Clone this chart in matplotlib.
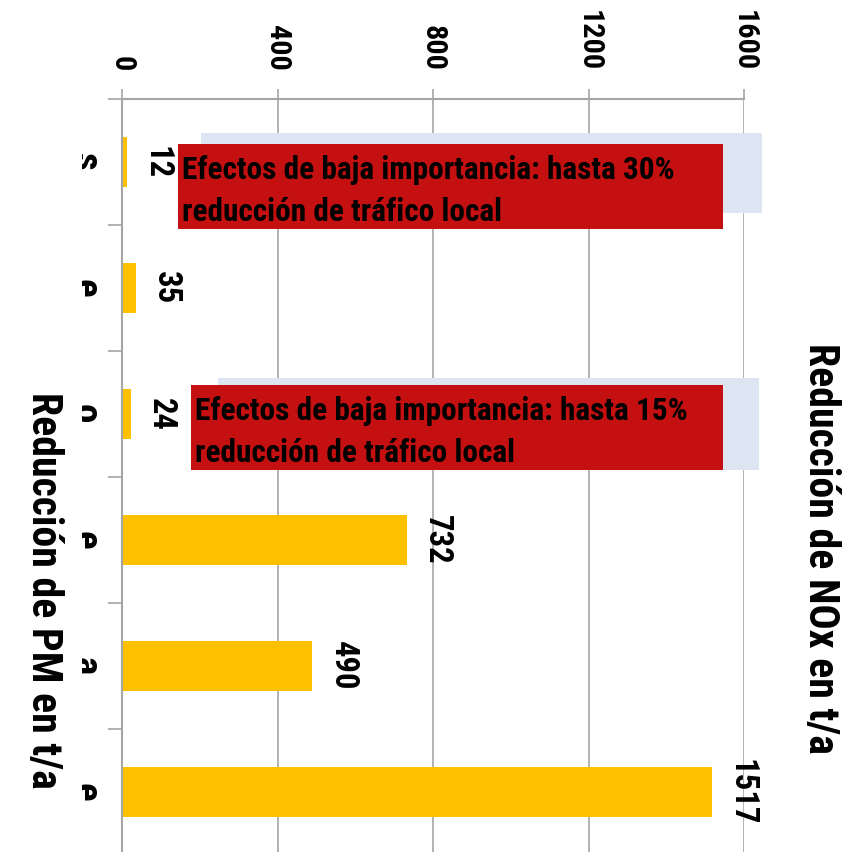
import matplotlib
matplotlib.use("Agg")
import matplotlib.pyplot as plt
from matplotlib import font_manager
from matplotlib.patches import Rectangle
from matplotlib.transforms import Bbox
import numpy as np

# ---------------- data ----------------
categories = ["s", "e", "o", "e", "a", "e"]          # only fragments of the category labels are visible
pm_values = [12, 35, 24, 732, 490, 1517]             # Reducción de PM en t/a
value_ticks = [0, 400, 800, 1200, 1600]
value_tick_labels = ["0", "400", "800", "1200", "1600"]
note_lines = [
    ["Efectos de baja importancia: hasta 30%", "reducción de tráfico local"],
    ["Efectos de baja importancia: hasta 15%", "reducción de tráfico local"],
]
nox_title = "Reducción de NOx en t/a"
pm_title = "Reducción de PM en t/a"


# ---------------- fonts ----------------
def available(name):
    try:
        font_manager.findfont(font_manager.FontProperties(family=name, weight="bold"),
                              fallback_to_default=False)
        return True
    except Exception:
        return False


NARROW = ["Liberation Sans", "DejaVu Sans"]
for cand in ["Liberation Sans Narrow", "Arial Narrow", "Roboto Condensed"]:
    if available(cand):
        NARROW = [cand, "DejaVu Sans"]
        break

W = H = 852
fig = plt.figure(figsize=(W / 100, H / 100), dpi=100)
fig.patch.set_facecolor("white")


def fx(px):
    return px / W


def fy(py):
    return 1 - py / H


ax = fig.add_axes([fx(122), fy(855), fx(744) - fx(122), (855 - 99) / H])
ypos = np.arange(len(categories))
ax.barh(ypos, pm_values, height=0.4, color="#FFC000", zorder=2)
ax.set_xlim(0, 1600)
ax.set_ylim(len(categories) - 0.5, -0.5)

grid_c = "#A6A6A6"
ax.xaxis.grid(True, color=grid_c, lw=1.2)
ax.set_axisbelow(True)
for s in ("right", "bottom"):
    ax.spines[s].set_visible(False)
for s in ("left", "top"):
    ax.spines[s].set_color(grid_c)
    ax.spines[s].set_linewidth(1.5)

ax.xaxis.tick_top()
ax.set_xticks(value_ticks)
ax.set_xticklabels(value_tick_labels, rotation=-90, fontsize=20,
                   fontweight="bold", family=NARROW)
ax.tick_params(axis="x", which="major", length=7, color=grid_c, width=1.2, pad=13)

ax.set_yticks(ypos)
ax.set_yticklabels([])
ax.tick_params(axis="y", which="major", length=0)
ax.set_yticks(np.arange(len(categories) + 1) - 0.5, minor=True)
ax.tick_params(axis="y", which="minor", length=10, color=grid_c, width=1.2)

# value labels
value_texts = []
for i, v in enumerate(pm_values):
    value_texts.append(ax.annotate(str(v), xy=(v, i), xytext=(10, 0),
                                   textcoords="offset points", rotation=-90,
                                   ha="left", va="center", fontsize=20,
                                   fontweight="bold", family=NARROW, zorder=6))

# clipped category-label fragments
clip = Bbox.from_extents(82, 0, 98, H)
for i, c in enumerate(categories):
    t = fig.text(fx(84), fy(99 + 126 * i + 63), c, rotation=-90, ha="center",
                 va="center", fontsize=28, fontweight="bold", family=NARROW)
    t.set_clip_on(True)
    t.set_clip_box(clip)

# note boxes (light blue shadow + red box)
px_per_unit = (744 - 122) / 1600


def dx(px):
    return (px - 122) / px_per_unit


def dy(py):
    return (py - 99) / 126 - 0.5


blue_boxes = [(201, 133, 762, 213), (218, 378, 759, 470)]
red_boxes = [(178, 144, 723, 229), (191, 385, 723, 470)]
note_texts = []
for (bx0, by0, bx1, by1), (rx0, ry0, rx1, ry1), lines in zip(blue_boxes, red_boxes, note_lines):
    ax.add_patch(Rectangle((dx(bx0), dy(by0)), dx(bx1) - dx(bx0), dy(by1) - dy(by0),
                           facecolor="#DCE5F1", edgecolor="none", zorder=3, clip_on=False))
    ax.add_patch(Rectangle((dx(rx0), dy(ry0)), dx(rx1) - dx(rx0), dy(ry1) - dy(ry0),
                           facecolor="#C41010", edgecolor="none", zorder=4, clip_on=False))
    for k, line in enumerate(lines):
        note_texts.append(fig.text(fx(rx0 + 4), fy(ry0 + 35 + 42 * k), line, ha="left",
                                   va="baseline", fontsize=20, fontweight="bold",
                                   family=NARROW, color="black", zorder=7))

# axis titles
t_nox = fig.text(fx(821), fy(548), nox_title, rotation=-90, ha="center", va="center",
                 fontsize=26, fontweight="bold", family=NARROW)
t_pm = fig.text(fx(43), fy(590), pm_title, rotation=-90, ha="center", va="center",
                fontsize=26, fontweight="bold", family=NARROW)

# ---- fit font sizes to the lengths measured on the reference ----
fig.canvas.draw()
r = fig.canvas.get_renderer()


def scaled(t, target, vertical):
    bb = t.get_window_extent(r)
    cur = bb.height if vertical else bb.width
    return t.get_fontsize() * target / cur


s_note = scaled(note_texts[0], 490, False)
for t in note_texts:
    t.set_fontsize(s_note)
s_title = (scaled(t_nox, 407, True) + scaled(t_pm, 400, True)) / 2
t_nox.set_fontsize(s_title)
t_pm.set_fontsize(s_title)
s_val = scaled(value_texts[-1], 66, True)
for t in value_texts:
    t.set_fontsize(s_val)
s_tick = scaled(ax.get_xticklabels()[-1], 61, True)
ax.tick_params(axis="x", labelsize=s_tick)

fig.savefig("out.png", dpi=100, facecolor="white")
